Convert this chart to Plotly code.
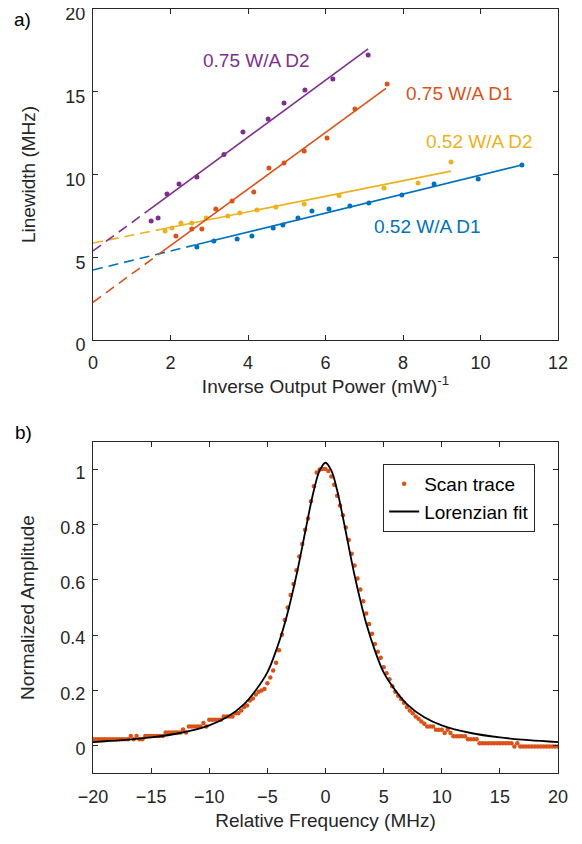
import plotly.graph_objects as go

# ---------------- Panel a) data ----------------
series_names = ["0.52 W/A D1", "0.52 W/A D2", "0.75 W/A D1", "0.75 W/A D2"]
series_colors = ["#0072BD", "#EDB120", "#D95319", "#7E2F8E"]

d1_052_x = [2.68, 3.12, 3.72, 4.10, 4.65, 4.90, 5.29, 5.65, 6.09, 6.63, 7.12, 7.97, 8.80, 9.94, 11.07]
d1_052_y = [5.62, 5.98, 6.10, 6.28, 6.77, 6.95, 7.37, 7.79, 7.92, 8.10, 8.28, 8.76, 9.43, 9.73, 10.57]

d2_052_x = [1.86, 2.04, 2.27, 2.55, 2.92, 3.48, 3.79, 4.23, 4.72, 5.45, 6.35, 7.51, 8.39, 9.24]
d2_052_y = [6.59, 6.77, 7.07, 7.07, 7.37, 7.49, 7.67, 7.85, 8.04, 8.22, 8.73, 9.18, 9.49, 10.76]

d1_075_x = [2.14, 2.55, 2.81, 3.17, 3.59, 4.15, 4.54, 4.93, 5.45, 6.04, 6.76, 7.59]
d1_075_y = [6.28, 6.71, 6.71, 7.92, 8.40, 8.94, 10.39, 10.69, 11.42, 12.20, 13.96, 15.47]

d2_075_x = [1.50, 1.68, 1.91, 2.22, 2.68, 3.38, 3.87, 4.52, 4.93, 5.47, 6.19, 7.10]
d2_075_y = [7.19, 7.37, 8.82, 9.43, 9.85, 11.20, 12.57, 13.35, 14.32, 15.10, 15.77, 17.22]

# linear fits: intercept, slope, and x where the solid (fitted) part starts/ends
fit_intercept = [4.23, 5.86, 2.28, 5.38]
fit_slope = [0.573, 0.47, 1.71, 1.72]
fit_x_start = [2.68, 1.73, 1.68, 1.42]
fit_x_end = [11.07, 9.24, 7.56, 7.10]

xa_ticks = [0, 2, 4, 6, 8, 10, 12]
ya_ticks = [0, 5, 10, 15, 20]

# ---------------- Panel b) data ----------------
scan_f_start = -20.0
scan_f_step = 0.25
scan_amp = [
    0.022, 0.022, 0.022, 0.022, 0.022, 0.022, 0.022, 0.022, 0.022, 0.022,   # -20 .. -17.75
    0.022, 0.022, 0.022, 0.034, 0.022, 0.034, 0.022, 0.022, 0.034, 0.034,   # -17.5 .. -15.25
    0.034, 0.034, 0.034, 0.034, 0.034, 0.047, 0.047, 0.047, 0.047, 0.047,   # -15 .. -12.75
    0.047, 0.058, 0.047, 0.069, 0.069, 0.069, 0.069, 0.069, 0.081, 0.069,   # -12.5 .. -10.25
    0.093, 0.093, 0.093, 0.093, 0.093, 0.105, 0.105, 0.105, 0.105, 0.117,   # -10 .. -7.75
    0.117, 0.127, 0.139, 0.145, 0.163, 0.170, 0.185, 0.195, 0.199, 0.205,   # -7.5 .. -5.25
    0.225, 0.246, 0.272, 0.300, 0.345, 0.401, 0.455, 0.500, 0.545, 0.585,   # -5 .. -2.75
    0.635, 0.685, 0.730, 0.782, 0.823, 0.885, 0.940, 0.990, 1.000, 1.002,   # -2.5 .. -0.25
    1.002, 0.995, 0.975, 0.945, 0.905, 0.870, 0.835, 0.790, 0.745, 0.695,   # 0 .. 2.25
    0.652, 0.605, 0.565, 0.523, 0.478, 0.440, 0.405, 0.368, 0.340, 0.318,   # 2.5 .. 4.75
    0.283, 0.262, 0.240, 0.215, 0.195, 0.180, 0.168, 0.155, 0.139, 0.127,   # 5 .. 7.25
    0.117, 0.105, 0.097, 0.087, 0.079, 0.069, 0.069, 0.069, 0.057, 0.057,   # 7.5 .. 9.75
    0.057, 0.045, 0.057, 0.045, 0.033, 0.033, 0.033, 0.033, 0.033, 0.022,   # 10 .. 12.25
    0.022, 0.022, 0.022, 0.008, 0.008, 0.008, 0.008, 0.008, 0.008, 0.008,   # 12.5 .. 14.75
    0.008, 0.008, 0.008, 0.008, 0.008, -0.004, 0.008, -0.004, -0.004, -0.004,  # 15 .. 17.25
    -0.004, -0.004, -0.004, -0.004, -0.004, -0.004, -0.004, -0.004, -0.004, -0.004,  # 17.5 .. 19.75
    -0.004,                                                                    # 20
]
scan_freq = [scan_f_start + i * scan_f_step for i in range(len(scan_amp))]

fit_freq = [-20, -17.5, -15, -12.5, -10, -8.5, -7, -6, -5, -4.2, -3.5, -3, -2.5, -2, -1.5, -1, -0.5, 0,
            0.5, 1, 1.5, 2, 2.5, 3, 3.5, 4.2, 5, 6, 7, 8.5, 10, 12.5, 15, 17.5, 20]
fit_amp = [0.012, 0.019, 0.029, 0.045, 0.073, 0.102, 0.150, 0.200, 0.265, 0.350, 0.443, 0.525, 0.617, 0.720,
           0.827, 0.925, 0.997, 1.025,
           0.997, 0.925, 0.827, 0.720, 0.617, 0.525, 0.443, 0.350, 0.265, 0.200, 0.150, 0.102, 0.073, 0.045,
           0.029, 0.019, 0.012]

xb_ticks = [-20, -15, -10, -5, 0, 5, 10, 15, 20]
yb_ticks = [0, 0.2, 0.4, 0.6, 0.8, 1]
yb_ticklabels = ["0", "0.2", "0.4", "0.6", "0.8", "1"]

# ---------------- Figure ----------------
FONT = "Arial, 'Liberation Sans', Helvetica, sans-serif"
AX_COLOR = "#262626"
TICK_SIZE = 18
TITLE_SIZE = 19

fig = go.Figure()

series_x = [d1_052_x, d2_052_x, d1_075_x, d2_075_x]
series_y = [d1_052_y, d2_052_y, d1_075_y, d2_075_y]

for i in range(4):
    a, b = fit_intercept[i], fit_slope[i]
    x0, x1 = fit_x_start[i], fit_x_end[i]
    fig.add_trace(go.Scatter(x=[0, x0], y=[a, a + b * x0], mode="lines",
                             line=dict(color=series_colors[i], width=1.6, dash="10px,6px"),
                             showlegend=False, xaxis="x", yaxis="y", hoverinfo="skip"))
    fig.add_trace(go.Scatter(x=[x0, x1], y=[a + b * x0, a + b * x1], mode="lines",
                             line=dict(color=series_colors[i], width=1.6),
                             showlegend=False, xaxis="x", yaxis="y", hoverinfo="skip"))
    fig.add_trace(go.Scatter(x=series_x[i], y=series_y[i], mode="markers",
                             marker=dict(color=series_colors[i], size=5),
                             name=series_names[i], showlegend=False, xaxis="x", yaxis="y"))

fig.add_trace(go.Scatter(x=scan_freq, y=scan_amp, mode="markers",
                         marker=dict(color="#D95319", size=4.5),
                         name="Scan trace", xaxis="x2", yaxis="y2"))
fig.add_trace(go.Scatter(x=fit_freq, y=fit_amp, mode="lines",
                         line=dict(color="black", width=1.8, shape="spline", smoothing=1.0),
                         name="Lorenzian fit", xaxis="x2", yaxis="y2"))

ax_common = dict(showline=True, linecolor=AX_COLOR, linewidth=1, mirror="ticks",
                 ticks="inside", ticklen=5, tickcolor=AX_COLOR, tickwidth=1,
                 showgrid=False, zeroline=False, automargin=False,
                 ticklabeloverflow="allow",
                 tickfont=dict(family=FONT, size=TICK_SIZE, color=AX_COLOR))

title_font = dict(family=FONT, size=TITLE_SIZE, color=AX_COLOR)

# the page body adds an 8 px offset, so the figure is 8 px smaller than the window
fig.update_layout(
    template="none",
    width=574, height=836,
    margin=dict(l=85, r=24, t=1, b=71),
    paper_bgcolor="white", plot_bgcolor="white",
    font=dict(family=FONT, color=AX_COLOR),
    xaxis=dict(domain=[0, 1], range=[0, 12], tickvals=xa_ticks, anchor="y",
               ticklabelstandoff=6,
               title=dict(text="Inverse Output Power (mW)<sup>-1</sup>", font=title_font, standoff=6),
               **ax_common),
    yaxis=dict(domain=[0.5668, 1], range=[0, 20], tickvals=ya_ticks, anchor="x",
               ticklabelstandoff=3, ticklabelshift=5,
               title=dict(text="Linewidth (MHz)", font=title_font, standoff=24),
               **ax_common),
    xaxis2=dict(domain=[0, 1], range=[-20, 20], tickvals=xb_ticks, anchor="y2",
                ticklabelstandoff=7,
                title=dict(text="Relative Frequency (MHz)", font=title_font, standoff=8),
                **ax_common),
    yaxis2=dict(domain=[0, 0.4332], range=[-0.1, 1.1], tickvals=yb_ticks, ticktext=yb_ticklabels,
                anchor="x2", ticklabelstandoff=3, ticklabelshift=3,
                title=dict(text="Normalized Amplitude", font=title_font, standoff=20),
                **ax_common),
    legend=dict(x=0.624, y=0.4045, xanchor="left", yanchor="top",
                bgcolor="white", bordercolor=AX_COLOR, borderwidth=1,
                font=dict(family=FONT, size=TITLE_SIZE, color="black"),
                itemwidth=30, tracegroupgap=0),
    showlegend=True,
)

label_pos = [(8.63, 6.88), (9.98, 11.97), (9.47, 14.9), (4.23, 16.9)]
for i in range(4):
    fig.add_annotation(x=label_pos[i][0], y=label_pos[i][1], xref="x", yref="y",
                       text=series_names[i], showarrow=False,
                       font=dict(family=FONT, size=TITLE_SIZE, color=series_colors[i]))

fig.add_annotation(x=-0.172, y=1.0013, xref="paper", yref="paper", text="a)", showarrow=False,
                   xanchor="left", yanchor="top", borderpad=0,
                   font=dict(family=FONT, size=TITLE_SIZE, color="black"))
fig.add_annotation(x=-0.172, y=0.446, xref="paper", yref="paper", text="b)", showarrow=False,
                   xanchor="left", yanchor="middle", font=dict(family=FONT, size=TITLE_SIZE, color="black"))

fig.write_html("out.html")
